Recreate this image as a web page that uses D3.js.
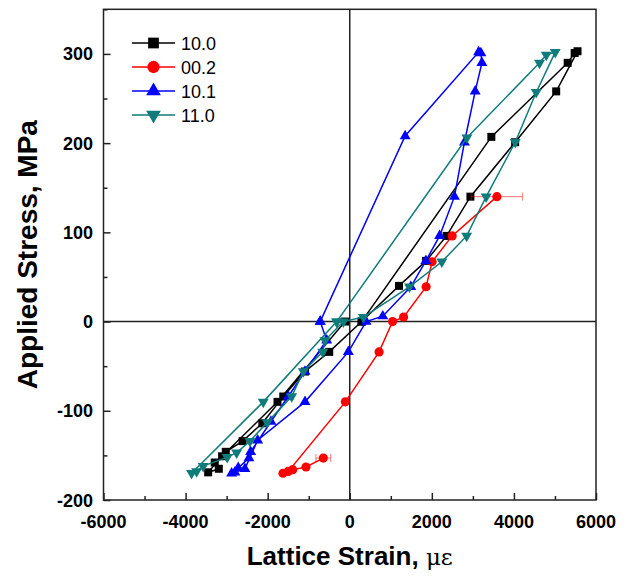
<!DOCTYPE html>
<html>
<head>
<meta charset="utf-8">
<script src="https://cdn.jsdelivr.net/npm/d3@7"></script>
<style>
  html, body { margin: 0; padding: 0; background: #fff; }
  svg { display: block; font-family: "Liberation Sans", Arial, sans-serif; }
</style>
</head>
<body>
<svg id="chart" width="631" height="577"></svg>
<script>
// Lattice strain (microstrain) vs applied stress (MPa) for four reflections
const seriesNames = ["10.0", "00.2", "10.1", "11.0"];
const seriesColors = ["#000000", "#ff0000", "#0000ff", "#0f7b7b"];

const strain100 = [290, 3450, 5310, 5480, 5550, 5030, 4030, 2940, 2360, 1860, 1200, 290,
  -500, -1090, -1620, -2130, -2610, -3020, -3450, -3190, -3290, -3110, -1760, -115];
const stress100 = [0, 207, 290, 301, 303, 258, 201, 140, 96, 68, 40, 0,
  -34, -56, -84, -114, -134, -146, -169, -165, -158, -151, -90, 0];

const strain002 = [3585, 2495, 2007, 1861, 1312, 1044, 715, -107, -1498, -1627, -1390, -1066, -644];
const stress002 = [140, 96, 67, 39, 5, 0, -34, -90, -168, -170, -166, -163, -153];
const err002 = [625, 0, 0, 0, 0, 0, 0, 0, 0, 0, 0, 0, 180];

const strain101 = [-720, 1350, 3140, 3195, 3220, 3056, 2795, 2551, 2190, 1854, 1488, 805, 398,
  -34, -1090, -2244, -2554, -2878, -2798, -2717, -2456, -2415, -1920, -1498, -1090, -561, -720];
const stress101 = [0, 208, 302, 301, 290, 258, 201, 140, 96, 68, 39, 6, 0,
  -34, -90, -133, -165, -170, -169, -164, -153, -146, -112, -84, -56, -21, 0];

const strain110 = [-317, 2854, 4624, 4788, 5007, 4544, 4032, 3324, 2849, 2244, 1454, 332, -156,
  -602, -659, -1132, -1415, -2010, -2432, -2756, -2985, -3571, -3732, -3854, -2107, -317];
const stress110 = [0, 206, 290, 299, 302, 257, 201, 140, 96, 67, 39, 5, 0,
  -21, -34, -56, -84, -113, -134, -147, -152, -162, -168, -170, -90, 0];

const xTicks = [-6000, -4000, -2000, 0, 2000, 4000, 6000];
const yTicks = [-200, -100, 0, 100, 200, 300];

const series = [
  { name: seriesNames[0], color: seriesColors[0], symbol: d3.symbolSquare, size: 64, rot: 0,
    xs: strain100, ys: stress100, err: null },
  { name: seriesNames[1], color: seriesColors[1], symbol: d3.symbolCircle, size: 66, rot: 0,
    xs: strain002, ys: stress002, err: err002 },
  { name: seriesNames[2], color: seriesColors[2], symbol: d3.symbolTriangle, size: 52, rot: 0,
    xs: strain101, ys: stress101, err: null },
  { name: seriesNames[3], color: seriesColors[3], symbol: d3.symbolTriangle, size: 52, rot: 180,
    xs: strain110, ys: stress110, err: null }
];

const svg = d3.select("#chart");
const plotLeft = 103.5, plotRight = 596, plotTop = 9.3, plotBottom = 500;

const x = d3.scaleLinear().domain([-6000, 6000]).range([plotLeft, plotRight]);
const y = d3.scaleLinear().domain([-200, 350]).range([plotBottom, plotTop]);

// axes: ticks point inward
const xAxis = svg.append("g").attr("transform", `translate(0,${plotBottom})`)
  .call(d3.axisBottom(x).tickValues(d3.range(-6000, 6001, 1000))
    .tickSize(0).tickFormat(""));
xAxis.select(".domain").remove();
xAxis.selectAll(".tick line")
  .attr("y2", d => (d % 2000 === 0 ? -7 : -4))
  .attr("stroke", "#222").attr("stroke-width", 1.5);

const yAxis = svg.append("g").attr("transform", `translate(${plotLeft},0)`)
  .call(d3.axisLeft(y).tickValues(d3.range(-200, 351, 50))
    .tickSize(0).tickFormat(""));
yAxis.select(".domain").remove();
yAxis.selectAll(".tick line")
  .attr("x2", d => (d % 100 === 0 ? 7 : 4))
  .attr("stroke", "#222").attr("stroke-width", 1.5);

// tick labels
svg.append("g").selectAll("text").data(xTicks).join("text")
  .attr("x", d => x(d)).attr("y", 528)
  .attr("text-anchor", "middle")
  .attr("font-weight", "bold").attr("font-size", 18)
  .text(d => d);

svg.append("g").selectAll("text").data(yTicks).join("text")
  .attr("x", 93).attr("y", d => y(d) + 6.5)
  .attr("text-anchor", "end")
  .attr("font-weight", "bold").attr("font-size", 18)
  .text(d => d);

// frame and zero lines
svg.append("rect")
  .attr("x", plotLeft).attr("y", plotTop)
  .attr("width", plotRight - plotLeft).attr("height", plotBottom - plotTop)
  .attr("fill", "none").attr("stroke", "#222").attr("stroke-width", 1.5);
svg.append("line")
  .attr("x1", plotLeft).attr("x2", plotRight).attr("y1", y(0)).attr("y2", y(0))
  .attr("stroke", "#222").attr("stroke-width", 1.5);
svg.append("line")
  .attr("x1", x(0)).attr("x2", x(0)).attr("y1", plotTop).attr("y2", plotBottom)
  .attr("stroke", "#222").attr("stroke-width", 1.5);

// axis titles
svg.append("text")
  .attr("x", x(0)).attr("y", 565)
  .attr("text-anchor", "middle")
  .attr("font-weight", "bold").attr("font-size", 26)
  .call(t => {
    t.append("tspan").text("Lattice Strain, ");
    t.append("tspan").attr("font-weight", "normal").attr("font-size", 23)
      .attr("font-family", "'DejaVu Serif', serif").text("με");
  });

svg.append("text")
  .attr("transform", `translate(37,${(plotTop + plotBottom) / 2}) rotate(-90)`)
  .attr("text-anchor", "middle")
  .attr("font-weight", "bold").attr("font-size", 28)
  .text("Applied Stress, MPa");

const line = d3.line().x(d => x(d[0])).y(d => y(d[1]));

series.forEach(s => {
  const pts = s.xs.map((v, i) => [v, s.ys[i], s.err ? s.err[i] : 0]);
  const g = svg.append("g");
  g.append("path").datum(pts)
    .attr("d", line).attr("fill", "none")
    .attr("stroke", s.color).attr("stroke-width", 1.5);
  // error bars
  if (s.err) {
    const eb = g.append("g").attr("stroke", s.color).attr("stroke-opacity", 0.45).attr("stroke-width", 1.2);
    pts.filter(p => p[2] > 0).forEach(p => {
      eb.append("line").attr("x1", x(p[0] - p[2])).attr("x2", x(p[0] + p[2]))
        .attr("y1", y(p[1])).attr("y2", y(p[1]));
      [p[0] - p[2], p[0] + p[2]].forEach(e => {
        eb.append("line").attr("x1", x(e)).attr("x2", x(e))
          .attr("y1", y(p[1]) - 4).attr("y2", y(p[1]) + 4);
      });
    });
  }
  const sym = d3.symbol().type(s.symbol).size(s.size);
  g.selectAll("path.mk").data(pts).join("path")
    .attr("class", "mk")
    .attr("d", sym)
    .attr("transform", p => `translate(${x(p[0])},${y(p[1])}) rotate(${s.rot})`)
    .attr("fill", s.color);
});

// legend
const legend = svg.append("g");
series.forEach((s, i) => {
  const ly = 43 + i * 24;
  legend.append("line").attr("x1", 132).attr("x2", 175).attr("y1", ly).attr("y2", ly)
    .attr("stroke", s.color).attr("stroke-width", 1.5);
  legend.append("path")
    .attr("d", d3.symbol().type(s.symbol).size(s.size * 1.8))
    .attr("transform", `translate(153.5,${ly}) rotate(${s.rot})`)
    .attr("fill", s.color);
  legend.append("text").attr("x", 181).attr("y", ly + 6.5)
    .attr("font-size", 18).text(s.name);
});
</script>
</body>
</html>
